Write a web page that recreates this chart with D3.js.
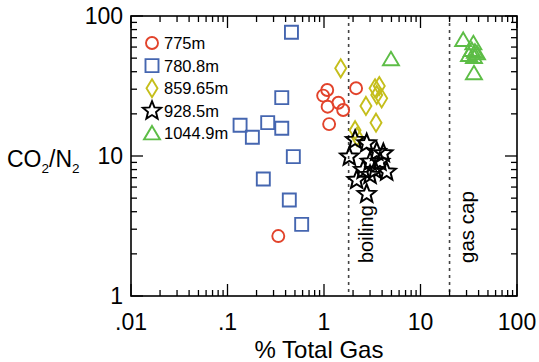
<!DOCTYPE html>
<html><head><meta charset="utf-8">
<script src="https://cdn.jsdelivr.net/npm/d3@7"></script>
<style>body{margin:0;background:#fff}svg{display:block}text{font-family:"Liberation Sans",Arial,sans-serif}</style>
</head><body><svg id="c" width="539" height="362"></svg>
<script>
// Data (x = % Total Gas, y = CO2/N2)
const seriesNames = ["775m","780.8m","859.65m","928.5m","1044.9m"];
const s775_x = [1.08,0.98,1.09,1.41,1.58,1.13,2.15,0.336];
const s775_y = [29.6,27.0,22.5,24.0,21.3,16.9,30.5,2.68];
const s780_x = [0.46,0.365,0.135,0.181,0.261,0.365,0.481,0.235,0.437,0.587];
const s780_y = [76.5,26.1,16.6,13.6,17.3,15.8,9.9,6.85,4.85,3.25];
const s859_x = [1.49,3.38,3.74,3.52,3.96,2.72,3.46,2.10,2.20];
const s859_y = [42.3,30.5,31.6,27.3,25.8,22.8,17.3,15.3,13.7];
const s928_x = [2.10,2.77,1.83,3.52,4.12,3.00,3.80,2.55,3.38,4.46,2.18,3.00,2.77];
const s928_y = [13.0,12.3,9.89,10.7,10.45,9.1,9.1,7.94,7.94,7.72,6.74,7.31,5.35];
const s1044_x = [4.94,27.7,35.3,34.0,36.7,38.5,31.8,35.8,35.8];
const s1044_y = [49.1,67.4,63.8,57.2,55.6,54.2,52.6,51.0,39.0];
const xTickValues = [0.01,0.1,1,10,100];
const xTickLabels = [".01",".1","1","10","100"];
const yTickValues = [1,10,100];
const yTickLabels = ["1","10","100"];
const refLines = [1.8, 20];
const refLabels = ["boiling","gas cap"];

const svg = d3.select("#c");
const L=131,R=517,T=16,B=296;
const x = d3.scaleLog().domain([0.01,100]).range([L,R]);
const y = d3.scaleLog().domain([1,100]).range([B,T]);

const colors = ["#e2432b","#4566b0","#c5be1b","#000000","#5dbd46"];
function starPath(R0,ri){let p=[];for(let i=0;i<10;i++){const a=-Math.PI/2+i*Math.PI/5;const r=i%2?ri:R0;p.push([r*Math.cos(a),r*Math.sin(a)]);}return "M"+p.map(d=>d.join(",")).join("L")+"Z";}
const shapes = [
  "M6,0A6,6 0 1,1 -6,0A6,6 0 1,1 6,0Z",
  "M-6.5,-6.5H6.5V6.5H-6.5Z",
  "M0,-9L5.5,0L0,9L-5.5,0Z",
  starPath(9.6,4.2),
  "M0,-7.5L8,6L-8,6Z"
];
const xs=[s775_x,s780_x,s859_x,s928_x,s1044_x], ys=[s775_y,s780_y,s859_y,s928_y,s1044_y];

// reference dashed lines
refLines.forEach((v,i)=>{
  svg.append("line").attr("x1",x(v)).attr("x2",x(v)).attr("y1",T).attr("y2",B)
    .attr("stroke","#444").attr("stroke-width",1.6).attr("stroke-dasharray","3,4");
});
svg.append("text").attr("transform",`translate(${x(refLines[0])+24},263) rotate(-90)`).attr("font-size",20).text(refLabels[0]);
svg.append("text").attr("transform",`translate(${x(refLines[1])+24},263) rotate(-90)`).attr("font-size",20.5).text(refLabels[1]);

// points
[1,0,2,4,3].forEach(k=>{
  svg.append("g").selectAll("path").data(xs[k].map((v,i)=>[v,ys[k][i]])).join("path")
    .attr("d",shapes[k]).attr("transform",d=>`translate(${x(d[0])},${y(d[1])})`)
    .attr("fill","none").attr("stroke",colors[k]).attr("stroke-width",k===3?2:1.9).attr("stroke-linejoin","miter");
});

// frame
svg.append("rect").attr("x",L).attr("y",T).attr("width",R-L).attr("height",B-T).attr("fill","none").attr("stroke","#000").attr("stroke-width",1.6);

// ticks
const minorX=[],minorY=[];
for(let e=-2;e<2;e++)for(let m=2;m<10;m++)minorX.push(m*Math.pow(10,e));
for(let e=0;e<2;e++)for(let m=2;m<10;m++)minorY.push(m*Math.pow(10,e));
const tk=svg.append("g").attr("stroke","#000").attr("stroke-width",1.3);
xTickValues.forEach(v=>{tk.append("line").attr("x1",x(v)).attr("x2",x(v)).attr("y1",B).attr("y2",B-12);tk.append("line").attr("x1",x(v)).attr("x2",x(v)).attr("y1",T).attr("y2",T+12);});
minorX.forEach(v=>{tk.append("line").attr("x1",x(v)).attr("x2",x(v)).attr("y1",B).attr("y2",B-6);tk.append("line").attr("x1",x(v)).attr("x2",x(v)).attr("y1",T).attr("y2",T+6);});
yTickValues.forEach(v=>{tk.append("line").attr("y1",y(v)).attr("y2",y(v)).attr("x1",L).attr("x2",L+12);tk.append("line").attr("y1",y(v)).attr("y2",y(v)).attr("x1",R).attr("x2",R-12);});
minorY.forEach(v=>{tk.append("line").attr("y1",y(v)).attr("y2",y(v)).attr("x1",L).attr("x2",L+6);tk.append("line").attr("y1",y(v)).attr("y2",y(v)).attr("x1",R).attr("x2",R-6);});

// tick labels
xTickValues.forEach((v,i)=>svg.append("text").attr("x",x(v)).attr("y",330).attr("text-anchor","middle").attr("font-size",23).text(xTickLabels[i]));
yTickValues.forEach((v,i)=>svg.append("text").attr("x",123).attr("y",y(v)+8).attr("text-anchor","end").attr("font-size",23).text(yTickLabels[i]));

// axis titles
svg.append("text").attr("x",319).attr("y",358).attr("text-anchor","middle").attr("font-size",24).text("% Total Gas");
const yt=svg.append("text").attr("x",7).attr("y",167).attr("font-size",23);
yt.append("tspan").text("CO");
yt.append("tspan").attr("font-size",13.5).attr("dy",6).text("2");
yt.append("tspan").attr("dy",-6).text("/N");
yt.append("tspan").attr("font-size",13.5).attr("dy",6).text("2");

// legend
seriesNames.forEach((n,k)=>{
  const ly=43+k*22.6;
  svg.append("path").attr("d",shapes[k]).attr("transform",`translate(152,${ly})`).attr("fill","none").attr("stroke",colors[k]).attr("stroke-width",1.9);
  svg.append("text").attr("x",164).attr("y",ly+6).attr("font-size",16.5).text(n);
});
</script></body></html>
